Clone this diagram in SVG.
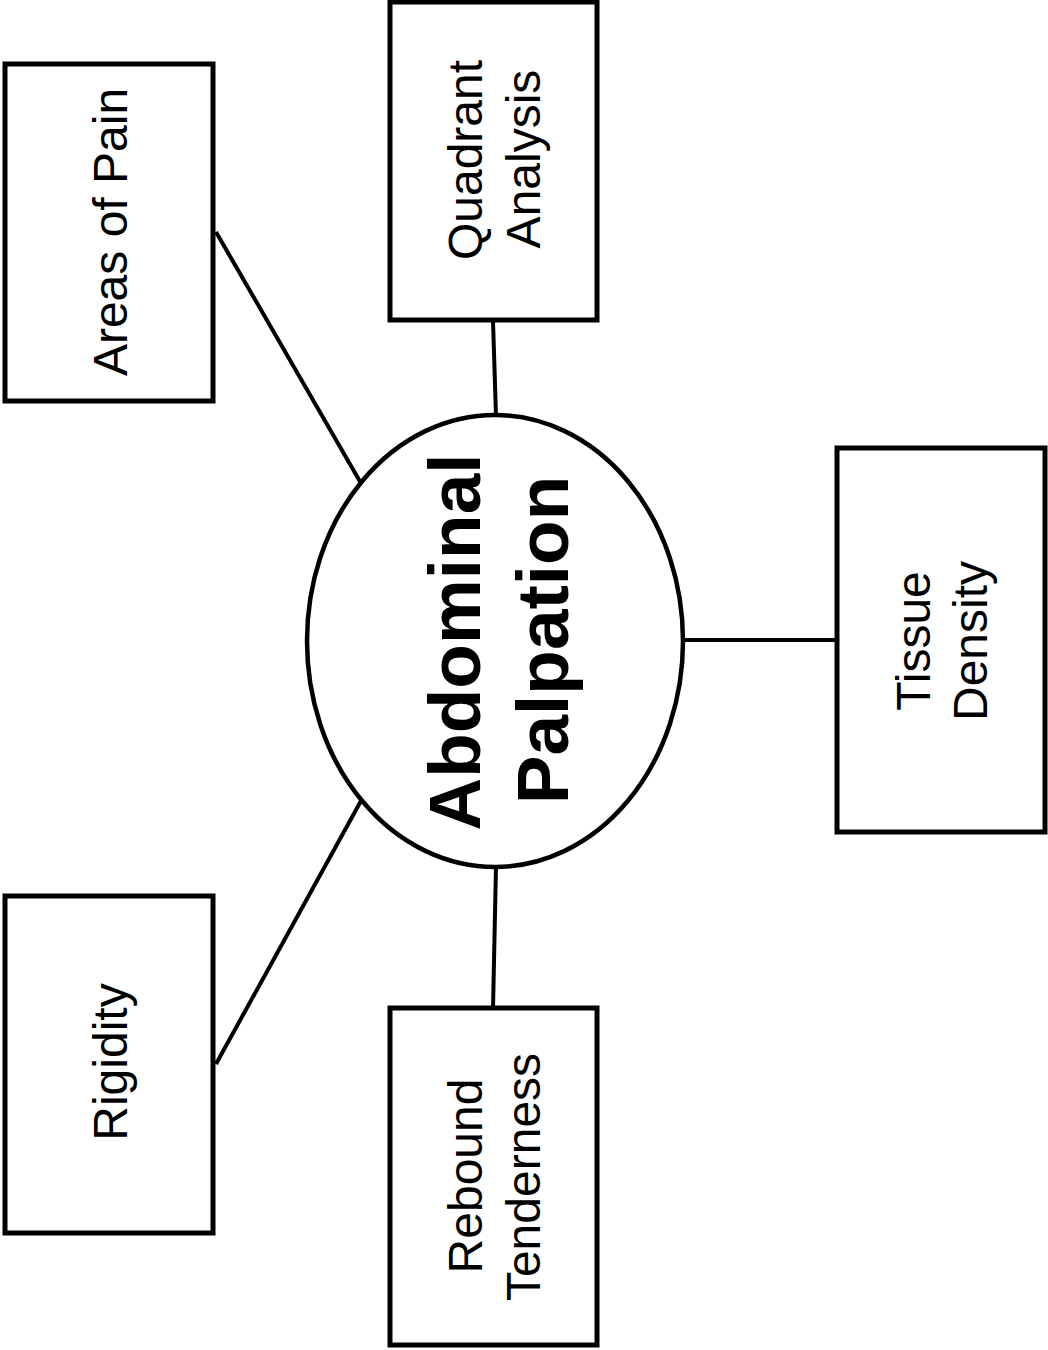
<svg xmlns="http://www.w3.org/2000/svg" width="1048" height="1350" viewBox="0 0 1048 1350">
<style>
.box{fill:#fff;stroke:#000;stroke-width:5}
.lbl{font-family:"Liberation Sans",Arial,sans-serif;font-size:48px;fill:#000;text-anchor:middle}
.main{font-family:"Liberation Sans",Arial,sans-serif;font-size:73px;font-weight:bold;fill:#000;text-anchor:middle}
.conn line{stroke:#000;stroke-width:4}
</style>
<rect width="1048" height="1350" fill="#fff"/>
<g class="conn" id="connectors">
<line x1="216" y1="232" x2="362" y2="485"/>
<line x1="493" y1="321" x2="496" y2="416"/>
<line x1="683" y1="640" x2="838" y2="640"/>
<line x1="496" y1="866" x2="493" y2="1009"/>
<line x1="216" y1="1064" x2="362" y2="799"/>
</g>
<g id="center">
<ellipse cx="495" cy="641" rx="188" ry="226" fill="#fff" stroke="#000" stroke-width="4.5"/>
<text class="main" transform="rotate(-90 480 642)" x="480" y="642">Abdominal</text>
<text class="main" transform="rotate(-90 568 640)" x="568" y="640">Palpation</text>
</g>
<g id="areas-of-pain">
<rect class="box" x="5" y="64" width="208" height="337"/>
<text class="lbl" transform="rotate(-90 127 232)" x="127" y="232">Areas of Pain</text>
</g>
<g id="quadrant-analysis">
<rect class="box" x="390" y="2" width="207" height="318"/>
<text class="lbl" transform="rotate(-90 482 160)" x="482" y="160">Quadrant</text>
<text class="lbl" transform="rotate(-90 540 159)" x="540" y="159">Analysis</text>
</g>
<g id="tissue-density">
<rect class="box" x="837" y="448" width="208" height="384"/>
<text class="lbl" transform="rotate(-90 930 641)" x="930" y="641">Tissue</text>
<text class="lbl" transform="rotate(-90 987 641)" x="987" y="641">Density</text>
</g>
<g id="rebound-tenderness">
<rect class="box" x="390" y="1008" width="207" height="337"/>
<text class="lbl" transform="rotate(-90 482 1176)" x="482" y="1176">Rebound</text>
<text class="lbl" transform="rotate(-90 540 1177)" x="540" y="1177">Tenderness</text>
</g>
<g id="rigidity">
<rect class="box" x="5" y="896" width="208" height="337"/>
<text class="lbl" transform="rotate(-90 127 1062)" x="127" y="1062">Rigidity</text>
</g>
</svg>
